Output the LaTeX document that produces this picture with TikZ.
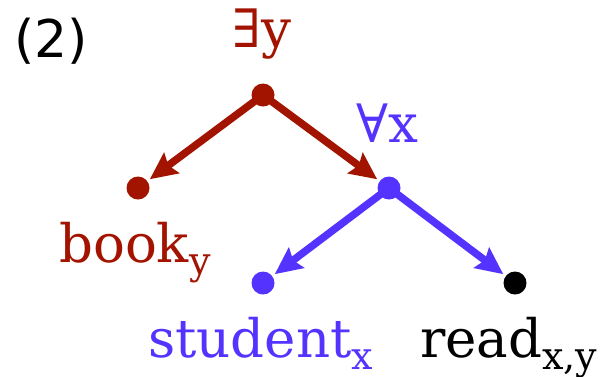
\documentclass[tikz,border=0pt]{standalone}
\usepackage{fontspec}
\setmainfont{DejaVu Serif}
\newfontfamily\labsans{DejaVu Sans}
\usetikzlibrary{arrows.meta}
\definecolor{qred}{HTML}{A21300}
\definecolor{qblue}{HTML}{5533FF}
\newcommand\lsub[1]{\raisebox{-12pt}{\fontsize{38}{40}\selectfont #1}}
\tikzset{
  dot/.style={circle, inner sep=0pt, minimum size=23pt, draw=none},
  arr/.style={line width=7.5pt, -{Stealth[length=27pt,width=25pt,inset=4pt]}, shorten >=3pt},
  lab/.style={inner sep=0pt, font=\fontsize{53}{60}\selectfont}
}
\begin{document}
\begin{tikzpicture}[x=1pt,y=-1pt]
\useasboundingbox (0,0) rectangle (609,376);
\node[inner sep=0pt, anchor=base west, font=\labsans\fontsize{52}{60}\selectfont] (num) at (14,57) {(2)};
\node[dot, fill=qred] (ey) at (263,95) {};
\node[dot, fill=qred] (book) at (138,188) {};
\node[dot, fill=qblue] (ax) at (389,188) {};
\node[dot, fill=qblue] (stu) at (263,283) {};
\node[dot, fill=black] (read) at (515,283) {};
\draw[arr, qred] (ey.center) -- (book);
\draw[arr, qred] (ey.center) -- (ax);
\draw[arr, qblue] (ax.center) -- (stu);
\draw[arr, qblue] (ax.center) -- (read);
\node[lab, anchor=base, text=qred] (eyl) at (262,47) {∃y};
\node[lab, anchor=base, text=qblue] (axl) at (387,142) {∀x};
\node[lab, anchor=base west, text=qred] (bookl) at (59,262) {book\lsub{y}};
\node[lab, anchor=base west, text=qblue] (stul) at (148,357) {student\lsub{x}};
\node[lab, anchor=base west, text=black] (readl) at (420,357) {read\lsub{x,y}};
\end{tikzpicture}
\end{document}
